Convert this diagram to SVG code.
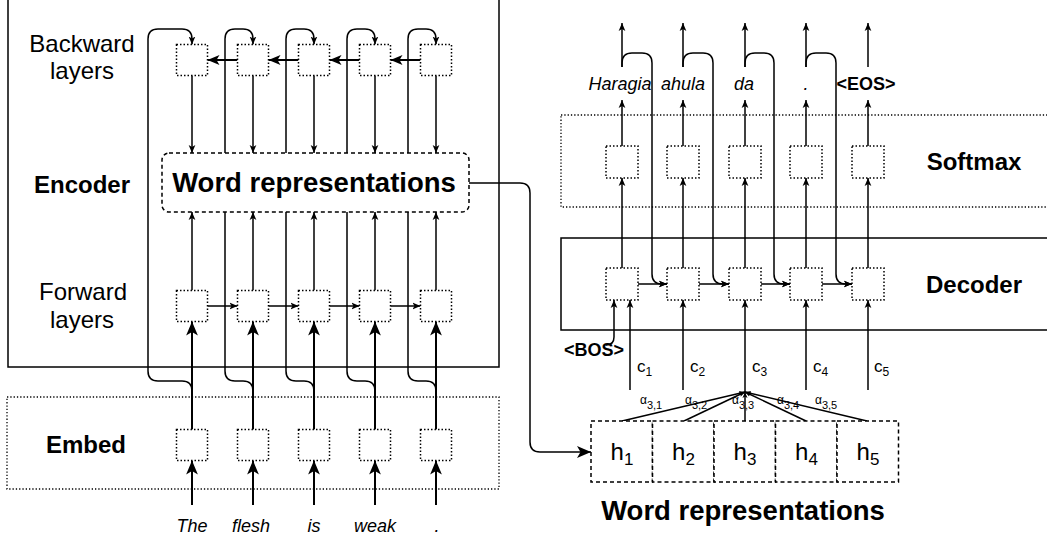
<svg xmlns="http://www.w3.org/2000/svg" width="1047" height="536" viewBox="0 0 1047 536">
<defs>
<style>
.ln{fill:none;stroke:#000;stroke-width:1.5}
.tk{fill:none;stroke:#000;stroke-width:2}
.dot{fill:#fff;stroke:#000;stroke-width:1.5;stroke-dasharray:1.5 2}
.dotr{fill:none;stroke:#000;stroke-width:1.3;stroke-dasharray:1.3 2}
.dash{fill:#fff;stroke:#000;stroke-width:1.5;stroke-dasharray:4 3}
.frame{fill:none;stroke:#000;stroke-width:1.5}
text{font-family:"Liberation Sans",Arial,sans-serif;fill:#000}
.b{font-weight:bold}
.i{font-style:italic}
.m{text-anchor:middle}
.lab{font-size:24px}
.wr{font-size:27.5px;font-weight:bold}
.w{font-size:18px}
.hl{font-size:24px}
</style>
<marker id="a" viewBox="0 0 10 10" refX="10" refY="5" markerWidth="8" markerHeight="8" markerUnits="userSpaceOnUse" orient="auto"><path d="M0,0.8 L10,5 L0,9.2 L2.5,5 z" fill="#000"/></marker>
<marker id="am" viewBox="0 0 10 10" refX="10" refY="5" markerWidth="13" markerHeight="12" markerUnits="userSpaceOnUse" orient="auto"><path d="M0,0.8 L10,5 L0,9.2 L2.5,5 z" fill="#000"/></marker>
<marker id="ab" viewBox="0 0 10 10" refX="10" refY="5" markerWidth="14" markerHeight="14" markerUnits="userSpaceOnUse" orient="auto"><path d="M0,0.8 L10,5 L0,9.2 L2.5,5 z" fill="#000"/></marker>
<marker id="as" viewBox="0 0 10 10" refX="10" refY="5" markerWidth="6" markerHeight="6" markerUnits="userSpaceOnUse" orient="auto"><path d="M0,0.8 L10,5 L0,9.2 L2.5,5 z" fill="#000"/></marker>
</defs>

<g id="encoder-frame"><rect class="frame" x="8" y="-1" width="491" height="368"/></g>
<g id="embed-frame"><rect class="dotr" x="7" y="397" width="492" height="92"/></g>
<g id="softmax-frame"><rect class="dotr" x="561" y="115" width="500" height="92"/></g>
<g id="decoder-frame"><rect class="frame" x="561" y="238" width="500" height="92"/></g>

<g id="connectors">
  <path class="ln" marker-end="url(#a)" d="M192,429.5 V391 Q192,381 182,381 H158 Q148,381 148,371 V39 Q148,29 158,29 H182 Q192,29 192,39 V44.5"/>
  <path class="ln" marker-end="url(#a)" d="M253,429.5 V391 Q253,381 243,381 H235 Q225,381 225,371 V39 Q225,29 235,29 H243 Q253,29 253,39 V44.5"/>
  <path class="ln" marker-end="url(#a)" d="M314,429.5 V391 Q314,381 304,381 H296 Q286,381 286,371 V39 Q286,29 296,29 H304 Q314,29 314,39 V44.5"/>
  <path class="ln" marker-end="url(#a)" d="M375,429.5 V391 Q375,381 365,381 H357 Q347,381 347,371 V39 Q347,29 357,29 H365 Q375,29 375,39 V44.5"/>
  <path class="ln" marker-end="url(#a)" d="M436,429.5 V391 Q436,381 426,381 H418 Q408,381 408,371 V39 Q408,29 418,29 H426 Q436,29 436,39 V44.5"/>
  <path class="tk" marker-end="url(#am)" d="M237.5,60 H207.5"/>
  <path class="tk" marker-end="url(#am)" d="M298.5,60 H268.5"/>
  <path class="tk" marker-end="url(#am)" d="M359.5,60 H329.5"/>
  <path class="tk" marker-end="url(#am)" d="M420.5,60 H390.5"/>
  <path class="ln" marker-end="url(#a)" d="M207.5,306 H237.5"/>
  <path class="ln" marker-end="url(#a)" d="M268.5,306 H298.5"/>
  <path class="ln" marker-end="url(#a)" d="M329.5,306 H359.5"/>
  <path class="ln" marker-end="url(#a)" d="M390.5,306 H420.5"/>
  <path class="ln" marker-end="url(#a)" d="M192,75.5 V153"/>
  <path class="ln" marker-end="url(#a)" d="M253,75.5 V153"/>
  <path class="ln" marker-end="url(#a)" d="M314,75.5 V153"/>
  <path class="ln" marker-end="url(#a)" d="M375,75.5 V153"/>
  <path class="ln" marker-end="url(#a)" d="M436,75.5 V153"/>
  <path class="ln" marker-end="url(#a)" d="M192,290.5 V212"/>
  <path class="ln" marker-end="url(#a)" d="M253,290.5 V212"/>
  <path class="ln" marker-end="url(#a)" d="M314,290.5 V212"/>
  <path class="ln" marker-end="url(#a)" d="M375,290.5 V212"/>
  <path class="ln" marker-end="url(#a)" d="M436,290.5 V212"/>
  <path class="tk" marker-end="url(#ab)" d="M192,429.5 V321.5"/>
  <path class="tk" marker-end="url(#ab)" d="M253,429.5 V321.5"/>
  <path class="tk" marker-end="url(#ab)" d="M314,429.5 V321.5"/>
  <path class="tk" marker-end="url(#ab)" d="M375,429.5 V321.5"/>
  <path class="tk" marker-end="url(#ab)" d="M436,429.5 V321.5"/>
  <path class="tk" marker-end="url(#ab)" d="M192,505 V460.5"/>
  <path class="tk" marker-end="url(#ab)" d="M253,505 V460.5"/>
  <path class="tk" marker-end="url(#ab)" d="M314,505 V460.5"/>
  <path class="tk" marker-end="url(#ab)" d="M375,505 V460.5"/>
  <path class="tk" marker-end="url(#ab)" d="M436,505 V460.5"/>
  <path class="ln" marker-end="url(#ab)" d="M469,183 H520 Q530,183 530,193 V442 Q530,452 540,452 H591"/>
  <path class="ln" marker-end="url(#a)" d="M638,284 H667"/>
  <path class="ln" marker-end="url(#a)" d="M699,284 H729"/>
  <path class="ln" marker-end="url(#a)" d="M761,284 H790"/>
  <path class="ln" marker-end="url(#a)" d="M822,284 H852"/>
  <path class="ln" marker-end="url(#a)" d="M622,67 V63 Q622,53 632,53 H642 Q652,53 652,63 V274 Q652,284 662,284 H667"/>
  <path class="ln" marker-end="url(#a)" d="M683,67 V63 Q683,53 693,53 H703 Q713,53 713,63 V274 Q713,284 723,284 H729"/>
  <path class="ln" marker-end="url(#a)" d="M745,67 V63 Q745,53 755,53 H764 Q774,53 774,63 V274 Q774,284 784,284 H790"/>
  <path class="ln" marker-end="url(#a)" d="M806,67 V63 Q806,53 816,53 H826 Q836,53 836,63 V274 Q836,284 846,284 H852"/>
  <path class="ln" marker-end="url(#a)" d="M622,67 V23"/>
  <path class="ln" marker-end="url(#a)" d="M683,67 V23"/>
  <path class="ln" marker-end="url(#a)" d="M745,67 V23"/>
  <path class="ln" marker-end="url(#a)" d="M806,67 V23"/>
  <path class="ln" marker-end="url(#a)" d="M868,67 V23"/>
  <path class="ln" marker-end="url(#a)" d="M622,146 V100"/>
  <path class="ln" marker-end="url(#a)" d="M683,146 V100"/>
  <path class="ln" marker-end="url(#a)" d="M745,146 V100"/>
  <path class="ln" marker-end="url(#a)" d="M806,146 V100"/>
  <path class="ln" marker-end="url(#a)" d="M868,146 V100"/>
  <path class="ln" marker-end="url(#a)" d="M622,268 V178"/>
  <path class="ln" marker-end="url(#a)" d="M683,268 V178"/>
  <path class="ln" marker-end="url(#a)" d="M745,268 V178"/>
  <path class="ln" marker-end="url(#a)" d="M806,268 V178"/>
  <path class="ln" marker-end="url(#a)" d="M868,268 V178"/>
  <path class="ln" marker-end="url(#a)" d="M606,345 Q614,345 614,337 V300"/>
  <path class="ln" marker-end="url(#a)" d="M630,390 V300"/>
  <path class="ln" marker-end="url(#a)" d="M683,390 V300"/>
  <path class="ln" marker-end="url(#a)" d="M745,392 V300"/>
  <path class="ln" marker-end="url(#a)" d="M806,390 V300"/>
  <path class="ln" marker-end="url(#a)" d="M868,390 V300"/>
  <path class="ln" stroke-width="1.2" marker-end="url(#as)" d="M622,421 L745,392"/>
  <path class="ln" stroke-width="1.2" marker-end="url(#as)" d="M684,421 L745,392"/>
  <path class="ln" stroke-width="1.2" marker-end="url(#as)" d="M745,421 L745,392"/>
  <path class="ln" stroke-width="1.2" marker-end="url(#as)" d="M806,421 L745,392"/>
  <path class="ln" stroke-width="1.2" marker-end="url(#as)" d="M867,421 L745,392"/>
</g>

<g id="backward-1"><rect class="dot" x="176.5" y="44.5" width="31" height="31"/></g>
<g id="backward-2"><rect class="dot" x="237.5" y="44.5" width="31" height="31"/></g>
<g id="backward-3"><rect class="dot" x="298.5" y="44.5" width="31" height="31"/></g>
<g id="backward-4"><rect class="dot" x="359.5" y="44.5" width="31" height="31"/></g>
<g id="backward-5"><rect class="dot" x="420.5" y="44.5" width="31" height="31"/></g>
<g id="forward-1"><rect class="dot" x="176.5" y="290.5" width="31" height="31"/></g>
<g id="forward-2"><rect class="dot" x="237.5" y="290.5" width="31" height="31"/></g>
<g id="forward-3"><rect class="dot" x="298.5" y="290.5" width="31" height="31"/></g>
<g id="forward-4"><rect class="dot" x="359.5" y="290.5" width="31" height="31"/></g>
<g id="forward-5"><rect class="dot" x="420.5" y="290.5" width="31" height="31"/></g>
<g id="embed-1"><rect class="dot" x="176.5" y="429.5" width="31" height="31"/></g>
<g id="embed-2"><rect class="dot" x="237.5" y="429.5" width="31" height="31"/></g>
<g id="embed-3"><rect class="dot" x="298.5" y="429.5" width="31" height="31"/></g>
<g id="embed-4"><rect class="dot" x="359.5" y="429.5" width="31" height="31"/></g>
<g id="embed-5"><rect class="dot" x="420.5" y="429.5" width="31" height="31"/></g>

<g id="word-reps-enc">
  <rect class="dash" x="162" y="153" width="307" height="59" rx="7"/>
  <text class="wr m" x="314" y="192">Word representations</text>
</g>

<g id="softmax-1"><rect class="dot" x="606" y="146" width="32" height="32"/></g>
<g id="softmax-2"><rect class="dot" x="667" y="146" width="32" height="32"/></g>
<g id="softmax-3"><rect class="dot" x="729" y="146" width="32" height="32"/></g>
<g id="softmax-4"><rect class="dot" x="790" y="146" width="32" height="32"/></g>
<g id="softmax-5"><rect class="dot" x="852" y="146" width="32" height="32"/></g>
<g id="decoder-1"><rect class="dot" x="606" y="268" width="32" height="32"/></g>
<g id="decoder-2"><rect class="dot" x="667" y="268" width="32" height="32"/></g>
<g id="decoder-3"><rect class="dot" x="729" y="268" width="32" height="32"/></g>
<g id="decoder-4"><rect class="dot" x="790" y="268" width="32" height="32"/></g>
<g id="decoder-5"><rect class="dot" x="852" y="268" width="32" height="32"/></g>

<g id="h-1"><rect class="dash" x="591" y="421" width="61.5" height="61"/><text class="hl m" x="622" y="460">h<tspan font-size="17" dy="5">1</tspan></text></g>
<g id="h-2"><rect class="dash" x="652.5" y="421" width="61.5" height="61"/><text class="hl m" x="683.5" y="460">h<tspan font-size="17" dy="5">2</tspan></text></g>
<g id="h-3"><rect class="dash" x="714" y="421" width="61.5" height="61"/><text class="hl m" x="745" y="460">h<tspan font-size="17" dy="5">3</tspan></text></g>
<g id="h-4"><rect class="dash" x="775.5" y="421" width="61.5" height="61"/><text class="hl m" x="806.5" y="460">h<tspan font-size="17" dy="5">4</tspan></text></g>
<g id="h-5"><rect class="dash" x="837" y="421" width="61.5" height="61"/><text class="hl m" x="868" y="460">h<tspan font-size="17" dy="5">5</tspan></text></g>

<g id="labels-left">
  <text class="lab m" x="82" y="52">Backward</text>
  <text class="lab m" x="82" y="79">layers</text>
  <text class="lab m b" x="82" y="193">Encoder</text>
  <text class="lab m" x="83" y="300">Forward</text>
  <text class="lab m" x="82" y="328">layers</text>
  <text class="lab m b" x="86" y="453">Embed</text>
</g>
<g id="input-words">
  <text class="w i m" x="192" y="532">The</text>
  <text class="w i m" x="251" y="532">flesh</text>
  <text class="w i m" x="314" y="532">is</text>
  <text class="w i m" x="375" y="532">weak</text>
  <text class="w i m" x="437" y="532">.</text>
</g>
<g id="output-words">
  <text class="w i m" x="620" y="90">Haragia</text>
  <text class="w i m" x="683" y="90">ahula</text>
  <text class="w i m" x="744" y="90">da</text>
  <text class="w i m" x="806" y="90">.</text>
  <text class="w b m" x="866" y="90">&lt;EOS&gt;</text>
</g>
<g id="labels-right">
  <text class="lab m b" x="974" y="170">Softmax</text>
  <text class="lab m b" x="974" y="293">Decoder</text>
  <text class="w b m" x="594" y="356">&lt;BOS&gt;</text>
  <text class="wr m" x="743" y="520">Word representations</text>
</g>
<g id="context-labels" font-size="17">
  <text x="637" y="372">c<tspan font-size="12" dy="4">1</tspan></text>
  <text x="690" y="372">c<tspan font-size="12" dy="4">2</tspan></text>
  <text x="752" y="372">c<tspan font-size="12" dy="4">3</tspan></text>
  <text x="813" y="372">c<tspan font-size="12" dy="4">4</tspan></text>
  <text x="874" y="372">c<tspan font-size="12" dy="4">5</tspan></text>
</g>
<g id="alpha-labels" font-size="12">
  <text x="640" y="404">α<tspan font-size="11" dy="5">3,1</tspan></text>
  <text x="685" y="404">α<tspan font-size="11" dy="5">3,2</tspan></text>
  <text x="732" y="404">α<tspan font-size="11" dy="5">3,3</tspan></text>
  <text x="777" y="404">α<tspan font-size="11" dy="5">3,4</tspan></text>
  <text x="815" y="404">α<tspan font-size="11" dy="5">3,5</tspan></text>
</g>
</svg>
